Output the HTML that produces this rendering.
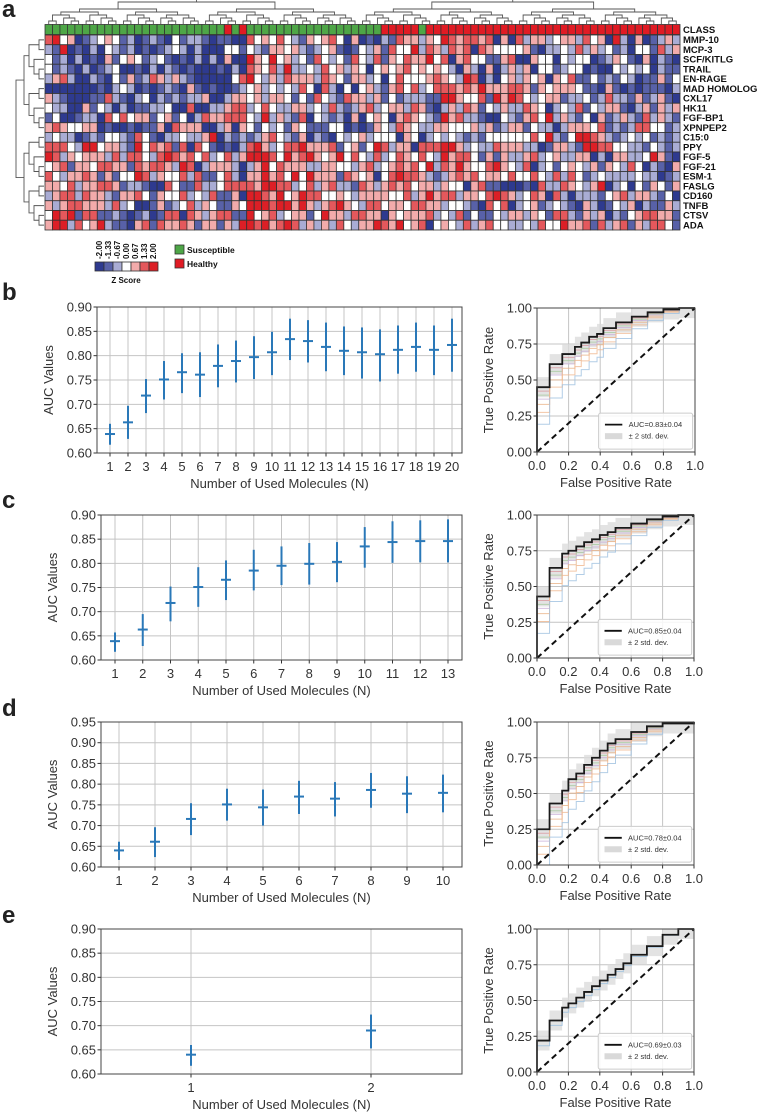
<!DOCTYPE html>
<html><head><meta charset="utf-8"><style>
html,body{margin:0;padding:0;background:#fff}
svg{display:block;font-family:"Liberation Sans",sans-serif}
</style></head><body>
<svg id="s" width="758" height="1116" viewBox="0 0 758 1116" xmlns="http://www.w3.org/2000/svg"></svg>
<script>
// ---------- DATA ----------
const geneLabels=["MMP-10","MCP-3","SCF/KITLG","TRAIL","EN-RAGE","MAD HOMOLOG","CXL17","HK11","FGF-BP1","XPNPEP2","C15:0","PPY","FGF-5","FGF-21","ESM-1","FASLG","CD160","TNFB","CTSV","ADA"];
const classHealthy=[24,26,45,46,47,48,49,51,52,53,54,55,56,57,58,59,60,61,62,63,64,65,66,67,68,69,70,71,72,73,74,75,76,77,78,79,80,81,82,83,84];
const heatRows=[
"5634012343120121031221011005343532143453040102154424365455450405244234425340620401242",
"2160102032120101232020003313214434212341013241533625425450543333410223252423120331524",
"3120201041343123101020204006436342315323153251435446350453311450043303233012431040210",
"3121020123001020210100010205435262232534243034345343432042040242403312330100323230211",
"2452002103141254242100000356324254442543144230353334543265020342434043511312132011413",
"0000000102320101210410100123423232530520303421453523555454644455414344431104101011102",
"4210001152102302121224002443424431315321544241312221166433516465323441223125221412410",
"3220041320201122300500224552353224423252124523442541024254132422543023251324410241424",
"1300122053534413413025445553262421503212040343045432164522100321453624213041242152421",
"4543344010010114054440024043132314311133010143254322443334241244132202444351212553312",
"2322012133215310223224602121245321402103234233304302323212133333353621366542123231212",
"5553266344216354515053101025642355644451341365244055566423225444220144216655332213212",
"6524344425255325654535235246665364564346353252354353264553141422452342244020442236410",
"3451443554415455426502444202463544422443324523454536254643356432502313432414325302104",
"5324454141336524335251135204464536364441543403565542124545344353353252531232222322012",
"4435244554122100531152235555466552352452215424545344243304511000105225432460230314314",
"2455254421445314335232511406654634655334324444335246455244356542354052022213452442130",
"4245544425230014123524311436665664642456432553443554423321053502341232104201324021142",
"3656155112101201550542455116345234413644255440434445232513113244243155214240213455441",
"4662534621104515445414414266564565242425324465463450343252453322325336445152451425531"];
const heatColors=["#2e3a8f","#5861a8","#a9acd4","#ffffff","#f2abab","#e4585c","#dc1f26"];
const zLabels=["-2.00","-1.33","-0.67","0.00","0.67","1.33","2.00"];

// AUC panels
const bN=[1,2,3,4,5,6,7,8,9,10,11,12,13,14,15,16,17,18,19,20];
const bMean=[0.639,0.663,0.718,0.751,0.766,0.761,0.779,0.789,0.797,0.807,0.834,0.830,0.818,0.810,0.807,0.803,0.812,0.818,0.812,0.822];
const bLo=[0.617,0.629,0.682,0.710,0.723,0.715,0.735,0.745,0.752,0.760,0.791,0.786,0.768,0.760,0.753,0.747,0.763,0.767,0.760,0.767];
const bHi=[0.660,0.697,0.752,0.789,0.805,0.807,0.823,0.831,0.840,0.849,0.876,0.873,0.868,0.860,0.858,0.854,0.862,0.868,0.862,0.876];
const cN=[1,2,3,4,5,6,7,8,9,10,11,12,13];
const cMean=[0.639,0.663,0.718,0.751,0.766,0.785,0.795,0.799,0.803,0.835,0.844,0.846,0.846];
const cLo=[0.617,0.629,0.680,0.710,0.724,0.744,0.755,0.756,0.761,0.791,0.801,0.802,0.802];
const cHi=[0.657,0.695,0.752,0.792,0.806,0.828,0.835,0.842,0.844,0.875,0.887,0.889,0.891];
const dN=[1,2,3,4,5,6,7,8,9,10];
const dMean=[0.640,0.661,0.716,0.751,0.744,0.770,0.765,0.786,0.777,0.779];
const dLo=[0.617,0.624,0.677,0.712,0.700,0.728,0.722,0.743,0.730,0.732];
const dHi=[0.661,0.696,0.754,0.789,0.787,0.808,0.805,0.827,0.819,0.823];
const eN=[1,2];
const eMean=[0.640,0.690];
const eLo=[0.617,0.653];
const eHi=[0.660,0.723];
const yTicksA=[0.60,0.65,0.70,0.75,0.80,0.85,0.90];
const yTicksD=[0.60,0.65,0.70,0.75,0.80,0.85,0.90,0.95];

// ROC panels
const rocTicks=[0,0.2,0.4,0.6,0.8,1.0];
const rocYTicks=[0,0.25,0.5,0.75,1.0];
const bFpr=[0,0.08,0.16,0.24,0.28,0.33,0.38,0.42,0.5,0.6,0.7,0.8,0.9,1];
const bTpr=[0.45,0.61,0.68,0.73,0.76,0.80,0.82,0.86,0.90,0.94,0.97,0.99,1,1];
const cFpr=[0,0.08,0.16,0.2,0.25,0.3,0.35,0.4,0.45,0.5,0.6,0.7,0.8,0.9,1];
const cTpr=[0.43,0.63,0.73,0.75,0.78,0.81,0.83,0.86,0.88,0.91,0.94,0.97,0.99,1,1];
const dFpr=[0,0.08,0.16,0.2,0.25,0.3,0.35,0.4,0.45,0.5,0.6,0.7,0.8,1];
const dTpr=[0.25,0.43,0.52,0.6,0.64,0.7,0.75,0.8,0.85,0.88,0.93,0.97,0.99,1];
const eFpr=[0,0.08,0.16,0.2,0.25,0.3,0.35,0.4,0.45,0.5,0.55,0.6,0.7,0.8,0.9,1];
const eTpr=[0.22,0.36,0.45,0.48,0.52,0.56,0.6,0.64,0.68,0.72,0.76,0.82,0.88,0.96,1,1];
const faintDrops=[0.03,0.06,0.09,0.13,0.19,0.28];
const faintColors=["#d89aa0","#a7c9a0","#c9b0d8","#e8b48a","#f0b890","#9fc0e0"];
const aucTexts=["AUC=0.83±0.04","AUC=0.85±0.04","AUC=0.78±0.04","AUC=0.69±0.03"];

// ---------- DRAW ----------
const NS="http://www.w3.org/2000/svg";
const S=document.getElementById('s');
function el(tag,attrs,parent,text){const e=document.createElementNS(NS,tag);for(const k in attrs)e.setAttribute(k,attrs[k]);if(text!==undefined)e.textContent=text;(parent||S).appendChild(e);return e;}

[["a",0,17],["b",0,300],["c",0,508],["d",0,716],["e",0,923]].forEach(p=>{
 const t=el('text',{x:p[1]+2,y:p[2],'font-size':24,'font-weight':'bold',fill:'#222'},S,p[0]);
 
 
});

// Heatmap
const hx0=45,hx1=680,nCols=85,cw=(hx1-hx0)/nCols,hy0=35,rh=9.75;
const hm=el('g',{});


for(let c=0;c<nCols;c++){
 const healthy=classHealthy.indexOf(c)>=0;
 const r=el('rect',{x:hx0+c*cw,y:24.5,width:cw,height:10,fill:healthy?'#e01b24':'#4ea647',stroke:'#333','stroke-width':0.8},hm);
 
 
}
heatRows.forEach((row,ri)=>{
 for(let c=0;c<nCols;c++){
  const v=+row[c%row.length];
  const r=el('rect',{x:hx0+c*cw,y:hy0+ri*rh,width:cw,height:rh,fill:heatColors[v],stroke:'#333','stroke-width':0.8},hm);
  
  
 }
});
const cl=el('text',{x:683,y:33,'font-size':9.5,'font-weight':'bold',fill:'#111'},S,"CLASS");


geneLabels.forEach((g,i)=>{
 const t=el('text',{x:683,y:hy0+i*rh+8,'font-size':9.5,'font-weight':'bold',fill:'#111'},S,g);
 
 
});
const dg=el('g',{stroke:'#555','stroke-width':0.9,fill:'none'});


function colDend(a,b,depth){
 if(b-a<=1){return [hx0+(a+0.5)*cw,24];}
 const m=Math.floor((a+b)/2);
 const L=colDend(a,m,depth+1),R=colDend(m,b,depth+1);
 const y=Math.min(L[1],R[1])-(depth<2?7:3);
 el('path',{d:`M${L[0]},${L[1]}V${y}H${R[0]}V${R[1]}`},dg);
 return [(L[0]+R[0])/2,Math.max(y,0.5)];
}
colDend(0,nCols,0);
const rg=el('g',{stroke:'#555','stroke-width':0.9,fill:'none'});


function rowDend(a,b,depth){
 if(b-a<=1){return [44,hy0+(a+0.5)*rh];}
 const m=Math.floor((a+b)/2);
 const T=rowDend(a,m,depth+1),B=rowDend(m,b,depth+1);
 const x=Math.min(T[0],B[0])-(depth<1?8:5);
 el('path',{d:`M${T[0]},${T[1]}H${x}V${B[1]}H${B[0]}`},rg);
 return [Math.max(x,16),(T[1]+B[1])/2];
}
rowDend(0,20,0);
const ck=el('g',{});


heatColors.forEach((c,i)=>{
 el('rect',{x:95+i*9,y:262,width:9,height:9,fill:c,stroke:'#333','stroke-width':0.8},ck);
 el('text',{x:0,y:0,'font-size':8,'font-weight':'bold',fill:'#111',transform:`translate(${102+i*9},259) rotate(-90)`},ck,zLabels[i]);
});
el('text',{x:126,y:283,'font-size':8,'font-weight':'bold','text-anchor':'middle',fill:'#111'},ck,"Z Score");
const lg=el('g',{});


el('rect',{x:175,y:245,width:9,height:9,fill:'#4ea647',stroke:'#333','stroke-width':0.8},lg);
el('text',{x:187,y:253,'font-size':8.5,'font-weight':'bold',fill:'#111'},lg,"Susceptible");
el('rect',{x:175,y:259,width:9,height:9,fill:'#e01b24',stroke:'#333','stroke-width':0.8},lg);
el('text',{x:187,y:267,'font-size':8.5,'font-weight':'bold',fill:'#111'},lg,"Healthy");

function aucChart(name,box,ns,mean,lo,hi,yTicks,xRef){
 const g=el('g',{});
 
 
 const [L,R,T,B]=box, ymin=yTicks[0], ymax=yTicks[yTicks.length-1];
 const yS=v=>B-(v-ymin)/(ymax-ymin)*(B-T);
 const [n1,p1,n2,p2]=xRef; const xS=n=>p1+(n-n1)/(n2-n1)*(p2-p1);
 yTicks.forEach(t=>{
  el('line',{x1:L,x2:R,y1:yS(t),y2:yS(t),stroke:'#c4c4c4','stroke-width':1},g);
  el('line',{x1:L-3.5,x2:L,y1:yS(t),y2:yS(t),stroke:'#333'},g);
  el('text',{x:L-5,y:yS(t)+4.5,'font-size':13,'text-anchor':'end',fill:'#333'},g,t.toFixed(2));
 });
 ns.forEach(n=>{
  el('line',{x1:xS(n),x2:xS(n),y1:T,y2:B,stroke:'#c4c4c4','stroke-width':1},g);
  el('line',{x1:xS(n),x2:xS(n),y1:B,y2:B+3.5,stroke:'#333'},g);
  el('text',{x:xS(n),y:B+18,'font-size':13,'text-anchor':'middle',fill:'#333'},g,String(n));
 });
 el('rect',{x:L,y:T,width:R-L,height:B-T,fill:'none',stroke:'#444','stroke-width':1},g);
 ns.forEach((n,i)=>{
  const eb=el('line',{x1:xS(n),x2:xS(n),y1:yS(lo[i]),y2:yS(hi[i]),stroke:'#2a78b8','stroke-width':2},g);
  
  
  const m=el('line',{x1:xS(n)-5,x2:xS(n)+5,y1:yS(mean[i]),y2:yS(mean[i]),stroke:'#2a78b8','stroke-width':2},g);
  
  
 });
 const yl=el('text',{x:0,y:0,'font-size':13,'text-anchor':'middle',fill:'#333',transform:`translate(${L-44},${(T+B)/2}) rotate(-90)`},g,"AUC Values");
 
 
 const xl=el('text',{x:(L+R)/2,y:B+35,'font-size':13,'text-anchor':'middle',fill:'#333'},g,"Number of Used Molecules (N)");
 
 
}
aucChart('auc-chart-b',[97,462,307,453],bN,bMean,bLo,bHi,yTicksA,[1,110,20,452]);
aucChart('auc-chart-c',[101,462,515,660],cN,cMean,cLo,cHi,yTicksA,[1,115,13,448]);
aucChart('auc-chart-d',[101,462,722,867],dN,dMean,dLo,dHi,yTicksD,[1,119,10,443]);
aucChart('auc-chart-e',[101,462,929,1074],eN,eMean,eLo,eHi,yTicksA,[1,191,2,371]);

function rocChart(name,box,fpr,tpr,faint,auc){
 const g=el('g',{});
 
 
 const [L,R,T,B]=box;
 const xS=v=>L+v*(R-L), yS=v=>B-v*(B-T);
 rocYTicks.forEach(t=>{
  el('line',{x1:L,x2:R,y1:yS(t),y2:yS(t),stroke:'#c4c4c4'},g);
  el('line',{x1:L-3.5,x2:L,y1:yS(t),y2:yS(t),stroke:'#333'},g);
  el('text',{x:L-5,y:yS(t)+4.5,'font-size':13,'text-anchor':'end',fill:'#333'},g,t.toFixed(2));
 });
 rocTicks.forEach(t=>{
  el('line',{x1:xS(t),x2:xS(t),y1:T,y2:B,stroke:'#c4c4c4'},g);
  el('line',{x1:xS(t),x2:xS(t),y1:B,y2:B+3.5,stroke:'#333'},g);
  el('text',{x:xS(t),y:B+18,'font-size':13,'text-anchor':'middle',fill:'#333'},g,t.toFixed(1));
 });
 const lowered=(i,off)=>{const nx=i+1<fpr.length?fpr[i+1]:1;return Math.max(0,Math.min(1,tpr[i]-off*(1-nx)));};
 const stepPath=off=>{let d=`M${xS(0)},${yS(0)}`;for(let i=0;i<fpr.length;i++){d+=`H${xS(fpr[i])}V${yS(lowered(i,off))}`;}return d+`H${xS(1)}V${yS(1)}`;};
 let up=`M${xS(0)},${yS(0)}`,dn='';
 for(let i=0;i<fpr.length;i++){
  const nx=i+1<fpr.length?fpr[i+1]:1;
  up+=`L${xS(fpr[i])},${yS(Math.min(1,tpr[i]+0.07))}L${xS(nx)},${yS(Math.min(1,tpr[i]+0.07))}`;
 }
 for(let i=fpr.length-1;i>=0;i--){
  const nx=i+1<fpr.length?fpr[i+1]:1;
  dn+=`L${xS(nx)},${yS(Math.max(0,tpr[i]-0.07))}L${xS(fpr[i])},${yS(Math.max(0,tpr[i]-0.07))}`;
 }
 const band=el('path',{d:up+dn+'Z',fill:'#d9d9d9','fill-opacity':0.75},g);
 
 
 if(faint){faintDrops.forEach((o,k)=>{
  const p=el('path',{d:stepPath(o),fill:'none',stroke:faintColors[k],'stroke-width':1,'stroke-opacity':0.8},g);
  
  
 });} else {
  const p=el('path',{d:stepPath(0.04),fill:'none',stroke:'#a9c7e0','stroke-width':1},g);
  
  
 }
 const dgl=el('line',{x1:xS(0),y1:yS(0),x2:xS(1),y2:yS(1),stroke:'#111','stroke-width':2,'stroke-dasharray':'6,4'},g);
 
 
 const mc=el('path',{d:stepPath(0),fill:'none',stroke:'#1a1a1a','stroke-width':1.8},g);
 
 
 el('rect',{x:L,y:T,width:R-L,height:B-T,fill:'none',stroke:'#444'},g);
 const lg=el('g',{},g);
 
 
 el('rect',{x:xS(0.39),y:yS(0.27),width:xS(0.985)-xS(0.39),height:yS(0.02)-yS(0.27),fill:'#fff','fill-opacity':0.85,stroke:'#ccc',rx:2},lg);
 el('line',{x1:xS(0.43),x2:xS(0.54),y1:yS(0.19),y2:yS(0.19),stroke:'#111','stroke-width':1.8},lg);
 el('text',{x:xS(0.58),y:yS(0.19)+2.5,'font-size':7.5,fill:'#333'},lg,auc);
 el('rect',{x:xS(0.43),y:yS(0.11)-3,width:xS(0.54)-xS(0.43),height:6,fill:'#d9d9d9'},lg);
 el('text',{x:xS(0.58),y:yS(0.11)+2.5,'font-size':7.5,fill:'#333'},lg,"± 2 std. dev.");
 const yl=el('text',{x:0,y:0,'font-size':13,'text-anchor':'middle',fill:'#333',transform:`translate(${L-44},${(T+B)/2}) rotate(-90)`},g,"True Positive Rate");
 
 
 const xl=el('text',{x:(L+R)/2,y:B+35,'font-size':13,'text-anchor':'middle',fill:'#333'},g,"False Positive Rate");
 
 
}
rocChart('roc-chart-b',[537,695,308,452],bFpr,bTpr,true,aucTexts[0]);
rocChart('roc-chart-c',[537,694,515,658],cFpr,cTpr,true,aucTexts[1]);
rocChart('roc-chart-d',[537,694,722,865],dFpr,dTpr,true,aucTexts[2]);
rocChart('roc-chart-e',[537,694,929,1072],eFpr,eTpr,false,aucTexts[3]);
</script>
</body></html>
